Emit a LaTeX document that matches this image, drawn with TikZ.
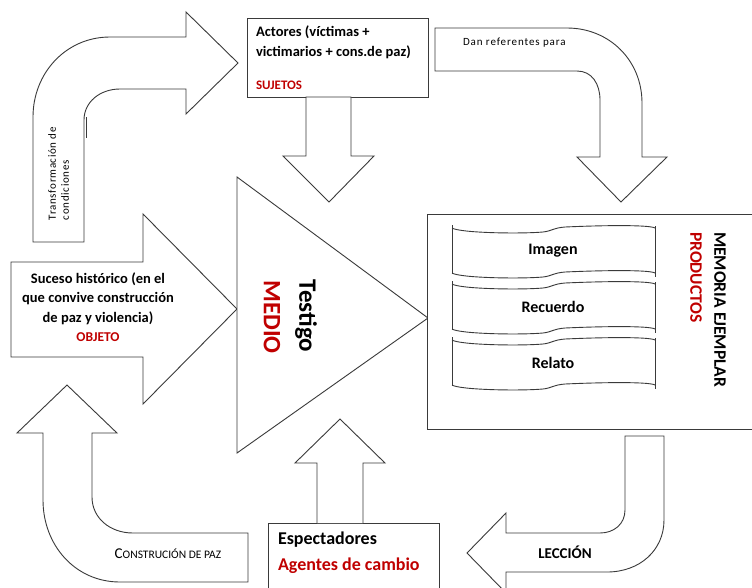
\documentclass[tikz,border=0pt]{standalone}
\usepackage{fontspec}
\setmainfont{Carlito}
\definecolor{rd}{HTML}{C00000}
\definecolor{ln}{HTML}{3A3A3A}
\newcommand{\tapewave}[1]{(452,#1+1) .. controls (460,#1+6) and (520,#1+7) .. (543,#1+5)
    .. controls (552,#1+4) and (553,#1+1) .. (565,#1) .. controls (610,#1-2) and (650,#1-2) .. (655,#1+1)}
\newcommand{\tapeshape}[2]{%
  \fill[white] (452,#1) rectangle (655,#1+46);
  \draw[lns] (452,#1-2) -- (452,#1+47);
  \draw[lns] (655,#1-1) -- (655,#1+50);
  \draw[lns] \tapewave{#1};
  \draw[lns] \tapewave{#1+45};
  \node[bt, font=\fontsize{16}{19}\selectfont\bfseries] (#2) at (553,#1+24) {#2};}
\begin{document}
\begin{tikzpicture}[x=1pt,y=-1pt,
  lns/.style={draw=ln,line width=0.9pt},
  shp/.style={lns,fill=white,line join=miter},
  bt/.style={inner sep=0pt,outer sep=0pt},
  redt/.style={text=rd}]
\useasboundingbox (0,0) rectangle (752,587);
\fill[white] (0,0) rectangle (752,587);
\clip (0,0) rectangle (752,587);

% Transformacion arrow (top-left, bent)
\draw[shp] (33,242) -- (33,117) .. controls (33,73) and (66,37) .. (110,37) -- (186,37)
  -- (186,12) -- (238,63) -- (186,114) -- (186,89) -- (120,89)
  .. controls (100,89) and (84,102) .. (84,120) -- (84,242) -- cycle;
\draw[lns] (86,117) -- (86,138);
\node[bt, rotate=90, anchor=west, align=left, font=\fontsize{11}{13}\selectfont\addfontfeature{LetterSpace=6}] (transf) at (58.5,220) {Transformación de\\condiciones};

% Actores box
\draw[shp] (247,18) rectangle (428,97);
\node[bt, anchor=west, align=left, font=\fontsize{14.5}{20}\selectfont\bfseries] (actores) at (256,42) {Actores (víctimas +\\victimarios + cons.de paz)};
\node[bt, anchor=west, redt, font=\fontsize{13}{15}\selectfont\bfseries] (sujetos) at (256,85) {SUJETOS};

% Down arrow from Actores
\draw[shp] (306,97) -- (351,97) -- (351,156) -- (374,156) -- (329,202) -- (283,156) -- (306,156) -- cycle;

% Dan referentes arrow
\draw[shp] (435,28) -- (567,28) .. controls (609,28) and (642,60) .. (642,103) -- (642,157)
  -- (667,157) -- (621,202) -- (577,157) -- (600,157) -- (600,100)
  .. controls (600,84) and (592,71) .. (577,71) -- (435,71) -- cycle;
\node[bt, anchor=west, font=\fontsize{11}{13}\selectfont\addfontfeature{LetterSpace=8}] (dan) at (463,43) {Dan referentes para};

% Suceso arrow
\draw[shp] (11,262) -- (143,262) -- (143,214) -- (237,309) -- (143,404) -- (143,357) -- (11,357) -- cycle;
\node[bt, align=center, font=\fontsize{14.5}{19.5}\selectfont\bfseries] (suceso) at (98,307) {Suceso histórico (en el\\que convive construcción\\de paz y violencia)\\\textcolor{rd}{\fontsize{13.5}{19.5}\selectfont OBJETO}};

% Triangle
\draw[shp] (237,177) -- (428,318) -- (237,453) -- cycle;
\node[bt, rotate=-90, font=\fontsize{25}{30}\selectfont\bfseries] (testigo) at (306,316) {Testigo};
\node[bt, rotate=-90, redt, font=\fontsize{25}{30}\selectfont\bfseries] (medio) at (272,317) {MEDIO};

% Memoria box
\draw[shp] (427,214) rectangle (770,429);
\tapeshape{227}{Imagen}
\tapeshape{283}{Recuerdo}
\tapeshape{339}{Relato}
\node[bt, rotate=-90, anchor=west, font=\fontsize{17.5}{20}\selectfont\bfseries] (memoria) at (720,232) {MEMORIA EJEMPLAR};
\node[bt, rotate=-90, anchor=west, redt, font=\fontsize{17.5}{20}\selectfont\bfseries] (productos) at (696,232) {PRODUCTOS};

% Leccion arrow
\draw[shp] (625,436) -- (664,436) -- (664,520) .. controls (664,550) and (640,572) .. (607,572)
  -- (506,572) -- (506,593) -- (467,553) -- (506,513) -- (506,533) -- (600,533)
  .. controls (614,533) and (625,524) .. (625,510) -- cycle;
\node[bt, font=\fontsize{15}{18}\selectfont\bfseries] (leccion) at (565,552) {LECCIÓN};

% Espectadores box and arrow
\draw[shp] (268,523) rectangle (439,600);
\draw[shp] (317,523) -- (317,463) -- (295,463) -- (340,419) -- (385,463) -- (363,463) -- (363,523);
\node[bt, anchor=west, font=\fontsize{18}{20}\selectfont\bfseries] (espect) at (278,540) {Espectadores};
\node[bt, anchor=west, redt, font=\fontsize{18}{20}\selectfont\bfseries] (agentes) at (278,566) {Agentes de cambio};

% Construccion arrow
\draw[shp] (67,385) -- (117,433) -- (92,433) -- (92,497) .. controls (92,518) and (110,533) .. (133,533)
  -- (248,533) -- (248,582) -- (120,582) .. controls (75,582) and (43,545) .. (43,500)
  -- (43,433) -- (17,433) -- cycle;
\node[bt, font=\fontsize{11.5}{13}\selectfont] (constr) at (168,554) {{\fontsize{15}{16}\selectfont C}ONSTRUCIÓN DE PAZ};
\end{tikzpicture}
\end{document}
